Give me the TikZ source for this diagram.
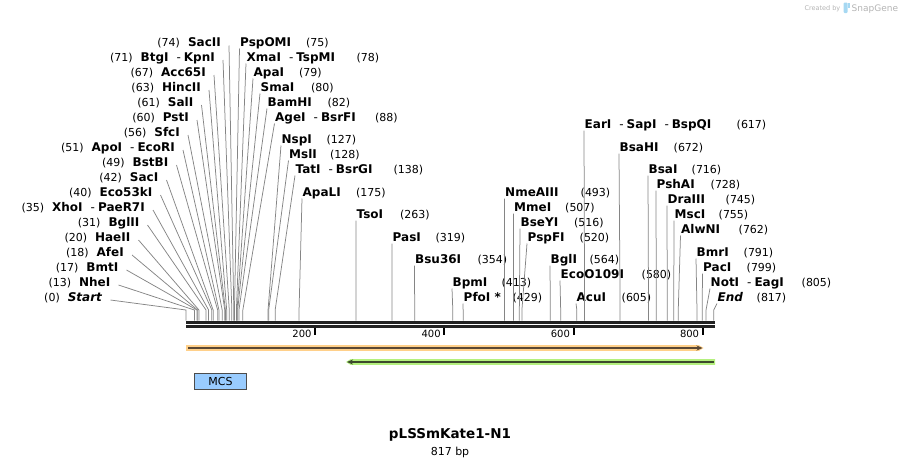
\documentclass[tikz,border=0pt]{standalone}
\usepackage{fontspec}
\setmainfont{DejaVu Sans}
\usetikzlibrary{arrows.meta}
\definecolor{cutgray}{HTML}{858585}
\definecolor{barblack}{HTML}{222222}
\definecolor{featorange}{HTML}{FFD08A}
\definecolor{featbrown}{HTML}{5A4835}
\definecolor{featgreen}{HTML}{B4F07E}
\definecolor{featdkgreen}{HTML}{3C4A2C}
\definecolor{mcsblue}{HTML}{99CCFF}
\definecolor{markgray}{HTML}{B4B4B4}
\definecolor{markblue}{HTML}{A6D8F2}
\newcommand{\enzsep}{\hspace{8pt}\textnormal{-}\hspace{3pt}}
\newcommand{\enzname}[1]{{\fontsize{12}{13}\selectfont\bfseries #1}}
\begin{document}
\begin{tikzpicture}[x=1pt,y=-1pt,
    lab/.style={font=\fontsize{11}{13}\selectfont,inner sep=0pt},
    num/.style={font=\fontsize{11}{13}\selectfont,inner sep=0pt},
    cutline/.style={draw=cutgray,line width=0.75pt},
    ticklab/.style={font=\fontsize{10}{12}\selectfont,inner sep=0pt}]
  \useasboundingbox (0,0) rectangle (901,466);
  % enzymes written left of the map
  \foreach \id/\bp/\xe/\yc/\nm in {
      sacII/74/221/42.5/SacII, btgI/71/215/57/BtgI\enzsep KpnI,
      acc65I/67/206/72/Acc65I, hincII/63/201/87/HincII,
      salI/61/193.5/102/SalI, pstI/60/189/117/PstI,
      sfcI/56/180/132/SfcI, apoI/51/175/147/ApoI\enzsep EcoRI,
      bstBI/49/168.5/162/BstBI, sacI/42/158.5/177/SacI,
      eco53kI/40/152.5/192/Eco53kI, xhoI/35/145/207/XhoI\enzsep PaeR7I,
      bglII/31/139.5/222/BglII, haeII/20/130.5/237/HaeII,
      afeI/18/124/252/AfeI, bmtI/17/118.5/267/BmtI,
      nheI/13/110.5/282/NheI, start/0/102.5/297/\textit{Start}}{
    \node[lab,anchor=base east] (\id) at (\xe,\yc+4.2) {(\bp)\hspace{8pt}\enzname{\nm}};
    \coordinate (\id-s) at ({186+0.646*\bp},310);
    \draw[cutline] ([shift={(8,-1.2)}]\id.base east) -- (\id-s) -- ++(0,10.5);
  }
  % enzymes written right of their line
  \foreach \id/\bp/\xt/\yc/\nm/\xn in {
      pspOMI/75/240/42/PspOMI/306, xmaI/78/246.5/57/XmaI\enzsep TspMI/356.5,
      apaI/79/253.5/72/ApaI/299, smaI/80/260.5/87/SmaI/311,
      bamHI/82/267.5/102/BamHI/327.5, ageI/88/275/117/AgeI\enzsep BsrFI/375,
      nspI/127/281.5/139/NspI/326.5, mslI/128/289/154/MslI/330,
      tatI/138/295.5/169/TatI\enzsep BsrGI/393.5, apaLI/175/302.5/192/ApaLI/356,
      tsoI/263/356.5/214/TsoI/400, pasI/319/392.5/237/PasI/435.5,
      bsu36I/354/415/259/Bsu36I/477.5, bpmI/413/452.5/282/BpmI/501.5,
      pfoI/429/463.5/297/PfoI */512.5, nmeAIII/493/505/192/NmeAIII/580.5,
      mmeI/507/514/207/MmeI/565, bseYI/516/520.5/222/BseYI/574,
      pspFI/520/527.5/237/PspFI/579.5, bglI/564/550.5/259/BglI/589.5,
      ecoO109I/580/560.5/274/EcoO109I/641.5, acuI/605/576.5/297/AcuI/621.5,
      earI/617/584.5/124/EarI\enzsep SapI\enzsep BspQI/736.5,
      bsaHI/672/619.5/147/BsaHI/673.5, bsaI/716/648.5/169/BsaI/691.5,
      pshAI/728/656.5/184/PshAI/710.5, draIII/745/667.5/199/DraIII/725.5,
      mscI/755/674.5/214/MscI/718.5, alwNI/762/681/229/AlwNI/738.5,
      bmrI/791/696.5/252/BmrI/743.5, pacI/799/703/267/PacI/746.5,
      notI/805/710.5/282/NotI\enzsep EagI/801.5, end/817/717.5/297/\textit{End}/756.5}{
    \node[lab,anchor=base west] (\id) at (\xt,\yc+4.2) {\enzname{\nm}};
    \node[num,anchor=base west] (\id-n) at (\xn,\yc+4.2) {(\bp)};
    \coordinate (\id-s) at ({186+0.646*\bp},310);
    \draw[cutline] ([shift={(-0.5,2.3)}]\id.base west) -- (\id-s) -- ++(0,10.5);
  }
  % the sequence bar
  \coordinate (barL) at (186,322.6);
  \coordinate (barR) at (714.5,322.6);
  \draw[barblack,line width=3pt] (barL) -- (barR);
  \draw[barblack,line width=2.4pt] ([yshift=-4pt]barL) -- ([yshift=-4pt]barR);
  \foreach \t in {200,400,600,800}{
    \coordinate (t\t) at ({186+0.646*\t},328);
    \draw[black,line width=2pt] (t\t) -- ++(0,6.5);
    \node[ticklab,anchor=base east] (tl\t) at ([shift={(-3.5,9)}]t\t) {\t};
  }
  % features
  \coordinate (orL) at (186,348);
  \coordinate (orR) at (703.5,348);
  \fill[featorange] (186,345.2) -- (699,345.2) -- (orR) -- (699,350.8) -- (186,350.8) -- cycle;
  \draw[featbrown,line width=1.6pt,-{Stealth[length=6pt,width=5pt]}] ([xshift=2pt]orL) -- ([xshift=-1pt]orR);
  \coordinate (grL) at (346,362);
  \coordinate (grR) at (715,362);
  \fill[featgreen] (grL) -- (350.5,359.2) -- (715,359.2) -- (715,364.8) -- (350.5,364.8) -- cycle;
  \draw[featdkgreen,line width=1.6pt,-{Stealth[length=6pt,width=5pt]}] ([xshift=-1pt]grR) -- ([xshift=1pt]grL);
  \node[draw=black!70,fill=mcsblue,line width=0.8pt,minimum width=52pt,minimum height=16pt,inner sep=0pt,
    font=\fontsize{11}{13}\selectfont] (mcs) at (220.5,381.3) {MCS};
  % name and length
  \node[font=\bfseries\fontsize{13.5}{15}\selectfont,inner sep=0pt] (title) at (450,435) {pLSSmKate1-N1};
  \node[font=\fontsize{11}{13}\selectfont,inner sep=0pt,anchor=base] (len) at (450,455.5) {817 bp};
  % watermark
  \node[font=\fontsize{6.5}{8}\selectfont,text=markgray,inner sep=0pt,anchor=base east] (made) at (840.5,10) {Created by};
  \fill[markblue,rounded corners=1pt] (843.5,2.5) rectangle (847.5,13);
  \fill[markblue] (847.5,2.5) rectangle (850,7.5);
  \node[font=\fontsize{9}{10}\selectfont,text=markgray,inner sep=0pt,anchor=base west] (snap) at (851.5,11) {SnapGene};
\end{tikzpicture}
\end{document}
